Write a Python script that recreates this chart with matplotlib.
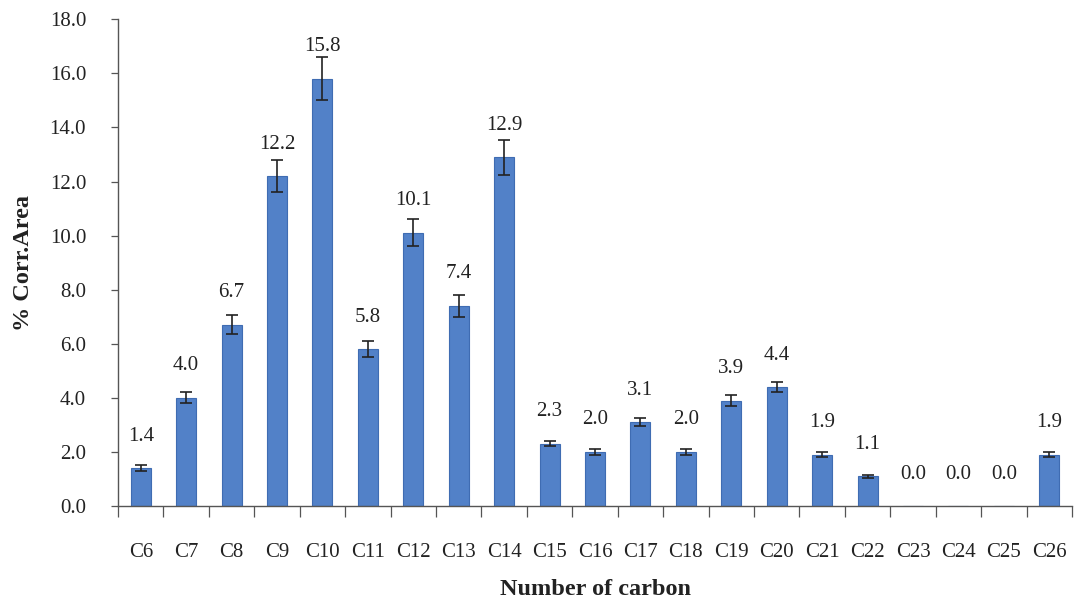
import numpy as np
import matplotlib
matplotlib.use('Agg')
import matplotlib.pyplot as plt
from matplotlib.ticker import FixedLocator, FormatStrFormatter

# ── Data ───────────────────────────────────────────────────────────────────
carbons = ['C6', 'C7', 'C8', 'C9', 'C10', 'C11', 'C12', 'C13', 'C14', 'C15',
           'C16', 'C17', 'C18', 'C19', 'C20', 'C21', 'C22', 'C23', 'C24',
           'C25', 'C26']
corr_area = [1.4, 4.0, 6.7, 12.2, 15.8, 5.8, 10.1, 7.4, 12.9, 2.3,
             2.0, 3.1, 2.0, 3.9, 4.4, 1.9, 1.1, 0.0, 0.0, 0.0, 1.9]
errors = [0.1, 0.2, 0.35, 0.6, 0.8, 0.3, 0.5, 0.4, 0.65, 0.1,
          0.1, 0.15, 0.1, 0.2, 0.2, 0.1, 0.05, 0.0, 0.0, 0.0, 0.1]
y_ticks = [0, 2, 4, 6, 8, 10, 12, 14, 16, 18]

# ── Style ──────────────────────────────────────────────────────────────────
plt.rcParams['font.family'] = ['Liberation Serif', 'DejaVu Serif']
BAR_COLOR = '#5281c8'
EDGE_COLOR = '#3f6cb2'
TEXT = '#222222'

fig = plt.figure(figsize=(10.76, 6.02), dpi=100)
ax = fig.add_axes([0.1097, 0.1595, 0.8866, 0.8085])

x = np.arange(len(carbons))
ax.bar(x, corr_area, width=0.44, color=BAR_COLOR, edgecolor=EDGE_COLOR,
       linewidth=0.8, zorder=2)
nz = [i for i, e in enumerate(errors) if e > 0]
ax.errorbar(x[nz], np.array(corr_area)[nz], yerr=np.array(errors)[nz],
            fmt='none', ecolor=TEXT, elinewidth=1.2, capsize=4,
            capthick=1.2, zorder=3)

# value labels sit a fixed distance above the bar top
for xi, v in zip(x, corr_area):
    ax.annotate(f'{v:.1f}', (xi, v), xytext=(0, 23), textcoords='offset points',
                ha='center', va='center', fontsize=15, color=TEXT)

ax.set_xlim(-0.5, len(carbons) - 0.5)
ax.set_ylim(0, 18)
ax.yaxis.set_major_locator(FixedLocator(y_ticks))
ax.yaxis.set_major_formatter(FormatStrFormatter('%.1f'))

ax.set_xticks(x)
ax.set_xticklabels(carbons)
ax.xaxis.set_minor_locator(FixedLocator(np.arange(-0.5, len(carbons), 1.0)))
ax.tick_params(axis='x', which='major', length=0, pad=27, labelsize=15,
               labelcolor=TEXT)
ax.tick_params(axis='x', which='minor', length=8, width=0.9, color='#555555',
               direction='out')
ax.tick_params(axis='y', length=5, width=0.9, color='#555555', pad=18,
               labelsize=15, labelcolor=TEXT)

for s in ['top', 'right']:
    ax.spines[s].set_visible(False)
for s in ['left', 'bottom']:
    ax.spines[s].set_color('#555555')
    ax.spines[s].set_linewidth(1.0)

ax.set_xlabel('Number of carbon', fontsize=17.5, fontweight='bold',
              color=TEXT, labelpad=12)
ax.set_ylabel('% Corr.Area', fontsize=17.5, fontweight='bold',
              color=TEXT, labelpad=11)

fig.savefig('out.png', dpi=100)
